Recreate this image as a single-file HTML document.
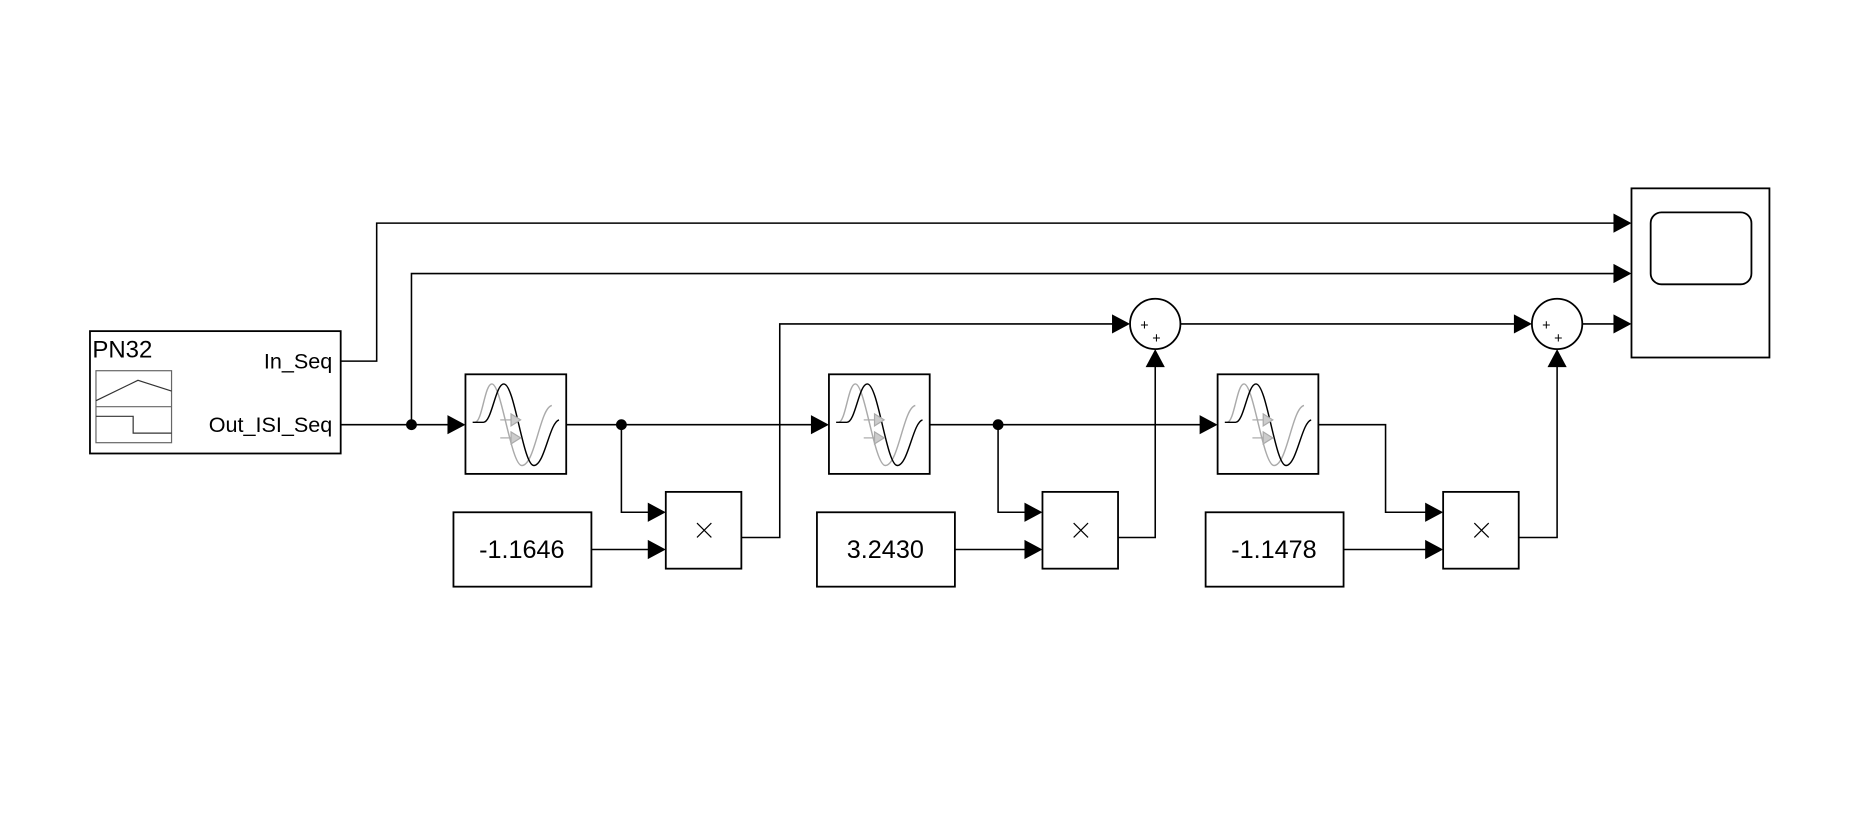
<!DOCTYPE html>
<html><head><meta charset="utf-8"><style>html,body{margin:0;padding:0;background:#fff;}svg{display:block;}</style></head>
<body>
<svg width="1875" height="835" viewBox="0 0 1563 696" preserveAspectRatio="none" xmlns="http://www.w3.org/2000/svg" font-family="Liberation Sans, Arial, sans-serif">
<defs>
<g id="flt">
<rect x="0" y="0" width="84" height="83" fill="#fff" stroke="#000" stroke-width="1.5"/>
<path d="M8,40 C14,40 16,8 22,8 C30,8 38,76 47,76 C58,76 62,28 72,26" fill="none" stroke="#aaa" stroke-width="1.2"/>
<path d="M6,40 L15,40 C22,40 25,8 32,8 C41,8 48,76 57,76 C66,76 70,40 78,38" fill="none" stroke="#000" stroke-width="1.2"/>
<line x1="29" y1="38" x2="40" y2="38" stroke="#aaa" stroke-width="1"/>
<polygon points="38,33 46,38 38,43" fill="#ccc" stroke="#aaa"/>
<line x1="29" y1="53" x2="40" y2="53" stroke="#aaa" stroke-width="1"/>
<polygon points="38,48 46,53 38,58" fill="#ccc" stroke="#aaa"/>
</g>
<g id="ar"><polygon points="-15,-8 0,0 -15,8" fill="#000"/></g>
<g id="au"><polygon points="-8,15 0,0 8,15" fill="#000"/></g>
<g id="x"><line x1="-6" y1="-6" x2="6" y2="6" stroke="#000" stroke-width="1"/><line x1="-6" y1="6" x2="6" y2="-6" stroke="#000" stroke-width="1"/></g>
</defs>
<g stroke="#000" stroke-width="1.3" fill="none">
<polyline points="284,301 314,301 314,186 1350,186"/>
<polyline points="343,354 343,228 1350,228"/>
<line x1="284" y1="354" x2="378" y2="354"/>
<line x1="472" y1="354" x2="681" y2="354"/>
<polyline points="518,354 518,427 545,427"/>
<line x1="493" y1="458" x2="545" y2="458"/>
<polyline points="618,448 650,448 650,270 932,270"/>
<line x1="984" y1="270" x2="1267" y2="270"/>
<line x1="1319" y1="270" x2="1350" y2="270"/>
<line x1="775" y1="354" x2="1005" y2="354"/>
<polyline points="832,354 832,427 859,427"/>
<line x1="796" y1="458" x2="859" y2="458"/>
<polyline points="932,448 963,448 963,301"/>
<polyline points="1099,354 1155,354 1155,427 1193,427"/>
<line x1="1120" y1="458" x2="1193" y2="458"/>
<polyline points="1266,448 1298,448 1298,301"/>
</g>
<circle cx="343" cy="354" r="4.5" fill="#000"/>
<circle cx="518" cy="354" r="4.5" fill="#000"/>
<circle cx="832" cy="354" r="4.5" fill="#000"/>
<use href="#ar" x="1360" y="186"/><use href="#ar" x="1360" y="228"/><use href="#ar" x="1360" y="270"/>
<use href="#ar" x="388" y="354"/><use href="#ar" x="691" y="354"/><use href="#ar" x="1015" y="354"/>
<use href="#ar" x="555" y="427"/><use href="#ar" x="555" y="458"/>
<use href="#ar" x="869" y="427"/><use href="#ar" x="869" y="458"/>
<use href="#ar" x="1203" y="427"/><use href="#ar" x="1203" y="458"/>
<use href="#ar" x="942" y="270"/><use href="#ar" x="1277" y="270"/>
<use href="#au" x="963" y="291"/><use href="#au" x="1298" y="291"/>
<rect x="75" y="276" width="209" height="102" fill="#fff" stroke="#000" stroke-width="1.5"/>
<text x="77" y="298" font-size="20">PN32</text>
<text x="277" y="307" font-size="18" text-anchor="end">In_Seq</text>
<text x="277" y="360" font-size="18" text-anchor="end">Out_ISI_Seq</text>
<rect x="80" y="309" width="63" height="60" fill="none" stroke="#666" stroke-width="1"/>
<line x1="80" y1="339" x2="143" y2="339" stroke="#666" stroke-width="1"/>
<polyline points="80,334 115,317 143,326" fill="none" stroke="#333" stroke-width="1"/>
<polyline points="80,347 111,347 111,361 143,361" fill="none" stroke="#333" stroke-width="1"/>
<use href="#flt" x="388" y="312"/><use href="#flt" x="691" y="312"/><use href="#flt" x="1015" y="312"/>
<g stroke="#000" stroke-width="1.5" fill="#fff">
<rect x="378" y="427" width="115" height="62"/>
<rect x="681" y="427" width="115" height="62"/>
<rect x="1005" y="427" width="115" height="62"/>
<rect x="555" y="410" width="63" height="64"/>
<rect x="869" y="410" width="63" height="64"/>
<rect x="1203" y="410" width="63" height="64"/>
<circle cx="963" cy="270" r="21"/>
<circle cx="1298" cy="270" r="21"/>
<rect x="1360" y="157" width="115" height="141"/>
<rect x="1376" y="177" width="84" height="60" rx="9"/>
</g>
<g font-size="21" text-anchor="middle">
<text x="435" y="465">-1.1646</text>
<text x="738" y="465">3.2430</text>
<text x="1062" y="465">-1.1478</text>
</g>
<use href="#x" x="587" y="442"/><use href="#x" x="901" y="442"/><use href="#x" x="1235" y="442"/>
<g font-size="12" text-anchor="middle">
<text x="954" y="275">+</text><text x="964" y="286">+</text>
<text x="1289" y="275">+</text><text x="1299" y="286">+</text>
</g>
</svg>
</body></html>
